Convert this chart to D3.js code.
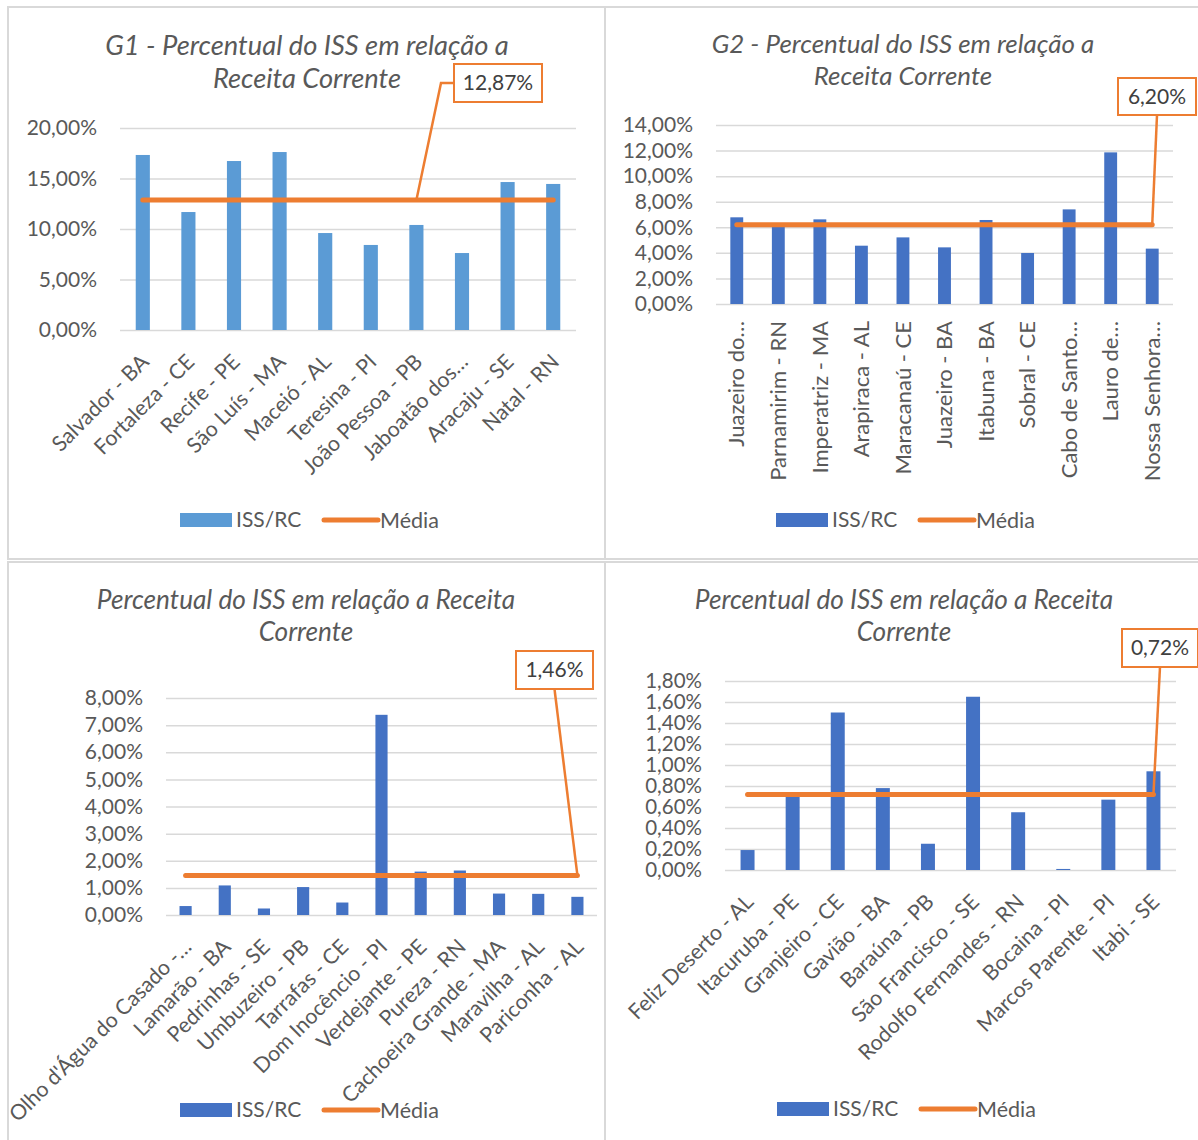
<!DOCTYPE html>
<html>
<head>
<meta charset="utf-8">
<script src="https://cdn.jsdelivr.net/npm/d3@7"></script>
<style>
  html, body { margin: 0; padding: 0; background: #fff; }
  svg { display: block; font-family: Lato, "Open Sans", sans-serif; }
</style>
</head>
<body>
<svg id="chart" width="1198" height="1140"></svg>
<script>
// ---- G1: capitais ----
const g1Categories = ["Salvador - BA", "Fortaleza - CE", "Recife - PE", "São Luís - MA", "Maceió - AL",
  "Teresina - PI", "João Pessoa - PB", "Jaboatão dos…", "Aracaju - SE", "Natal - RN"];
const g1Values = [17.33, 11.68, 16.73, 17.62, 9.60, 8.42, 10.40, 7.62, 14.65, 14.46];
const g1Mean = 12.87;
const g1Ticks = [0, 5, 10, 15, 20];

// ---- G2 ----
const g2Categories = ["Juazeiro do…", "Parnamirim - RN", "Imperatriz - MA", "Arapiraca - AL", "Maracanaú - CE",
  "Juazeiro - BA", "Itabuna - BA", "Sobral - CE", "Cabo de Santo…", "Lauro de…", "Nossa Senhora…"];
const g2Values = [6.78, 6.10, 6.62, 4.56, 5.21, 4.43, 6.57, 3.99, 7.40, 11.86, 4.33];
const g2Mean = 6.20;
const g2Ticks = [0, 2, 4, 6, 8, 10, 12, 14];

// ---- G3 ----
const g3Categories = ["Olho d'Água do Casado -…", "Lamarão - BA", "Pedrinhas - SE", "Umbuzeiro - PB", "Tarrafas - CE",
  "Dom Inocêncio - PI", "Verdejante - PE", "Pureza - RN", "Cachoeira Grande - MA", "Maravilha - AL", "Pariconha - AL"];
const g3Values = [0.33, 1.09, 0.24, 1.03, 0.46, 7.38, 1.60, 1.64, 0.79, 0.78, 0.67];
const g3Mean = 1.46;
const g3Ticks = [0, 1, 2, 3, 4, 5, 6, 7, 8];

// ---- G4 ----
const g4Categories = ["Feliz Deserto - AL", "Itacuruba - PE", "Granjeiro - CE", "Gavião - BA", "Baraúna - PB",
  "São Francisco - SE", "Rodolfo Fernandes - RN", "Bocaina - PI", "Marcos Parente - PI", "Itabi - SE"];
const g4Values = [0.19, 0.70, 1.50, 0.78, 0.25, 1.65, 0.55, 0.01, 0.67, 0.94];
const g4Mean = 0.72;
const g4Ticks = [0, 0.2, 0.4, 0.6, 0.8, 1.0, 1.2, 1.4, 1.6, 1.8];

const seriesNames = ["ISS/RC", "Média"];

const ORANGE = "#ED7D31";
const TEXT = "#595959";
const GRID = "#D9D9D9";

const panels = [
  { title: ["G1 - Percentual do ISS em relação a", "Receita Corrente"], titleSize: 27.3, titleX: 307, titleY: [45, 78],
    cats: g1Categories, vals: g1Values, mean: g1Mean, ticks: g1Ticks, color: "#5B9BD5", tickSize: 21,
    frame: [8, 7, 605, 559], x0: 120, x1: 576, yBottom: 330, yTop: 128,
    angle: -45, calloutIdx: 6, box: { x: 454, y: 64, w: 88, h: 38 }, elbow: true,
    legendX: 180, legendY: 520 },
  { title: ["G2 - Percentual do ISS em relação a", "Receita Corrente"], titleSize: 25.9, titleX: 903, titleY: [44, 76],
    cats: g2Categories, vals: g2Values, mean: g2Mean, ticks: g2Ticks, color: "#4472C4", tickSize: 21,
    frame: [605, 7, 1200, 559], x0: 716, x1: 1173, yBottom: 304, yTop: 125,
    angle: -90, calloutIdx: 10, box: { x: 1118, y: 78, w: 78, h: 37 }, elbow: false,
    legendX: 776, legendY: 520 },
  { title: ["Percentual do ISS em relação a Receita", "Corrente"], titleSize: 26.2, titleX: 306, titleY: [600, 632],
    cats: g3Categories, vals: g3Values, mean: g3Mean, ticks: g3Ticks, color: "#4472C4", tickSize: 21,
    frame: [8, 562, 605, 1141], x0: 166, x1: 597, yBottom: 915, yTop: 698,
    angle: -45, calloutIdx: 10, box: { x: 516, y: 651, w: 77, h: 38 }, elbow: false,
    legendX: 180, legendY: 1110 },
  { title: ["Percentual do ISS em relação a Receita", "Corrente"], titleSize: 26.2, titleX: 904, titleY: [600, 632],
    cats: g4Categories, vals: g4Values, mean: g4Mean, ticks: g4Ticks, color: "#4472C4", tickSize: 20.5,
    frame: [605, 562, 1200, 1141], x0: 725, x1: 1176, yBottom: 870, yTop: 681,
    angle: -45, calloutIdx: 9, box: { x: 1122, y: 629, w: 76, h: 38 }, elbow: false,
    legendX: 777, legendY: 1109 }
];

const locale = d3.formatLocale({ decimal: ",", thousands: ".", grouping: [3], currency: ["R$", ""] });
const f2 = locale.format(".2f");
const pct = v => f2(v) + "%";

const svg = d3.select("#chart");

// panel frames underneath everything
panels.forEach(p => {
  svg.append("rect")
    .attr("x", p.frame[0]).attr("y", p.frame[1])
    .attr("width", p.frame[2] - p.frame[0]).attr("height", p.frame[3] - p.frame[1])
    .attr("fill", "none").attr("stroke", GRID).attr("stroke-width", 2);
});

panels.forEach(p => {
  const g = svg.append("g");

  const x = d3.scaleBand().domain(p.cats).range([p.x0, p.x1]).paddingInner(0.69).paddingOuter(0.345);
  const maxTick = p.ticks[p.ticks.length - 1];
  const y = d3.scaleLinear().domain([0, maxTick]).range([p.yBottom, p.yTop]);
  const cx = c => x(c) + x.bandwidth() / 2;

  // title
  const t = g.append("text")
    .attr("text-anchor", "middle")
    .attr("fill", TEXT)
    .attr("font-style", "italic")
    .attr("font-size", p.titleSize);
  p.title.forEach((line, i) => {
    t.append("tspan").attr("x", p.titleX).attr("y", p.titleY[i]).attr("dy", "0.35em").text(line);
  });

  // gridlines + y labels
  const yAxis = d3.axisLeft(y).tickValues(p.ticks).tickSize(-(p.x1 - p.x0)).tickPadding(23).tickFormat(pct);
  const ga = g.append("g").attr("transform", `translate(${p.x0},0)`).call(yAxis);
  ga.select(".domain").remove();
  ga.selectAll(".tick line").attr("stroke", GRID).attr("stroke-width", 1.5);
  ga.selectAll(".tick text").attr("fill", TEXT).attr("font-size", p.tickSize).attr("font-family", "Lato, sans-serif");

  // bars
  g.append("g").selectAll("rect").data(p.vals).join("rect")
    .attr("x", (d, i) => x(p.cats[i]))
    .attr("width", x.bandwidth())
    .attr("y", d => y(d))
    .attr("height", d => y(0) - y(d))
    .attr("fill", p.color);

  // category labels
  const xl = g.append("g").selectAll("text").data(p.cats).join("text")
    .attr("fill", TEXT)
    .attr("text-anchor", "end")
    .attr("dy", "0.35em")
    .text(d => d);
  if (p.angle === -90) {
    xl.attr("font-size", 22)
      .attr("transform", d => `translate(${cx(d)},${p.yBottom + 17}) rotate(-90)`);
  } else {
    xl.attr("font-size", 21.3)
      .attr("transform", d => `translate(${cx(d) + 2},${p.yBottom + 28}) rotate(-45)`);
  }

  // mean line
  const first = p.cats[0], last = p.cats[p.cats.length - 1];
  const ym = y(p.mean);
  g.append("line")
    .attr("x1", cx(first)).attr("x2", cx(last))
    .attr("y1", ym).attr("y2", ym)
    .attr("stroke", ORANGE).attr("stroke-width", 5).attr("stroke-linecap", "round");

  // callout with value of the mean
  const sx = cx(p.cats[p.calloutIdx]);
  const b = p.box;
  let pts;
  if (p.elbow) {
    const my = b.y + b.h / 2;
    pts = [[sx, ym], [b.x - 13, my], [b.x, my]];
  } else {
    pts = [[sx, ym], [b.x + b.w / 2, b.y + b.h]];
  }
  g.append("path")
    .attr("d", d3.line()(pts))
    .attr("fill", "none").attr("stroke", ORANGE).attr("stroke-width", 2.5);
  g.append("rect")
    .attr("x", b.x).attr("y", b.y).attr("width", b.w).attr("height", b.h)
    .attr("fill", "#fff").attr("stroke", ORANGE).attr("stroke-width", 2);
  g.append("text")
    .attr("x", b.x + b.w / 2).attr("y", b.y + b.h / 2).attr("dy", "0.35em")
    .attr("text-anchor", "middle").attr("fill", "#404040").attr("font-size", 21)
    .text(pct(p.mean));

  // legend
  const lg = g.append("g").attr("transform", `translate(${p.legendX},${p.legendY})`);
  lg.append("rect").attr("x", 0).attr("y", -7).attr("width", 52).attr("height", 14).attr("fill", p.color);
  lg.append("text").attr("x", 56).attr("dy", "0.35em").attr("fill", TEXT).attr("font-size", 21).text(seriesNames[0]);
  lg.append("line").attr("x1", 144).attr("x2", 198).attr("y1", 0).attr("y2", 0)
    .attr("stroke", ORANGE).attr("stroke-width", 5).attr("stroke-linecap", "round");
  lg.append("text").attr("x", 200).attr("dy", "0.35em").attr("fill", TEXT).attr("font-size", 21.5).text(seriesNames[1]);
});
</script>
</body>
</html>
